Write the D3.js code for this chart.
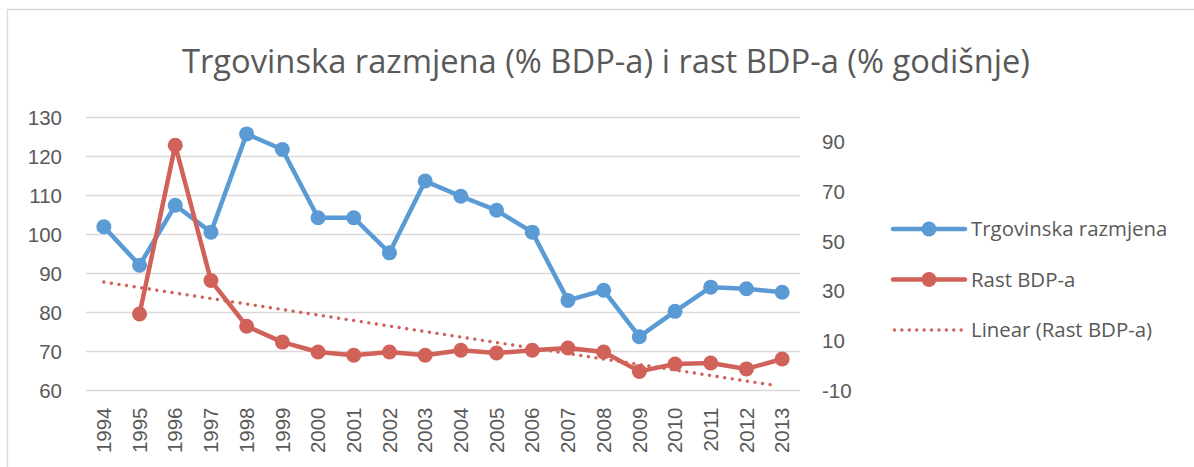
<!DOCTYPE html>
<html>
<head>
<meta charset="utf-8">
<script src="https://cdn.jsdelivr.net/npm/d3@7"></script>
<style>
    body { margin: 0; background: #fff; }
    svg { font-family: "Open Sans", sans-serif; }
    .tick-label { fill: #595959; font-size: 20.5px; }
</style>
</head>
<body>
<div id="chart"></div>
<script>
// values
const years = ['1994', '1995', '1996', '1997', '1998', '1999', '2000', '2001', '2002', '2003',
    '2004', '2005', '2006', '2007', '2008', '2009', '2010', '2011', '2012', '2013'];
const trade = [102, 92.1, 107.5, 100.6, 125.8, 121.8, 104.3, 104.3, 95.3, 113.7,
    109.8, 106.2, 100.6, 83.1, 85.7, 73.8, 80.3, 86.5, 86.1, 85.2];
const growth = [null, 20.8, 88.8, 34.3, 15.9, 9.5, 5.5, 4.2, 5.5, 4.2,
    6.2, 5.1, 6.2, 7.1, 5.5, -2.3, 0.7, 1.1, -1.3, 2.7];
// trendline end points (first and last year)
const trendYears = ['1994', '2013'];
const trendValues = [33.7, -8.1];

const leftTicks = [60, 70, 80, 90, 100, 110, 120, 130];
const rightTicks = [-10, 10, 30, 50, 70, 90];
const seriesNames = ['Trgovinska razmjena', 'Rast BDP-a', 'Linear (Rast BDP-a)'];

const blue = '#5b9bd5';
const red = '#d1625a';

const width = 1194, height = 467;
const plot = { left: 86, right: 800, top: 117.5, bottom: 390.5 };

const svg = d3.select('#chart').append('svg')
    .attr('width', width)
    .attr('height', height);

// chart border
svg.append('path')
    .attr('d', `M7.5,${height} V9.5 H${width}`)
    .attr('fill', 'none')
    .attr('stroke', '#d9d9d9')
    .attr('stroke-width', 1.3);

svg.append('text')
    .attr('x', 606)
    .attr('y', 73)
    .attr('text-anchor', 'middle')
    .attr('fill', '#595959')
    .style('font-size', '32.7px')
    .text('Trgovinska razmjena (% BDP-a) i rast BDP-a (% godišnje)');

let x = d3.scaleBand().domain(years).range([plot.left, plot.right]);
let yLeft = d3.scaleLinear().domain([60, 130]).range([plot.bottom, plot.top]);
let yRight = d3.scaleLinear().domain([-10, 100]).range([plot.bottom, plot.top]);
let cx = d => x(d) + x.bandwidth() / 2;

// gridlines
svg.append('g')
    .selectAll('line')
    .data(leftTicks).enter()
    .append('line')
    .attr('x1', plot.left)
    .attr('x2', plot.right)
    .attr('y1', d => yLeft(d))
    .attr('y2', d => yLeft(d))
    .attr('stroke', '#d9d9d9')
    .attr('stroke-width', 1.5);

// left axis
let leftAxis = svg.append('g')
    .attr('transform', `translate(${plot.left}, 0)`)
    .call(d3.axisLeft(yLeft).tickValues(leftTicks).tickSize(0).tickPadding(24));
leftAxis.select('.domain').remove();
leftAxis.selectAll('text').attr('class', 'tick-label').attr('fill', null);

// right axis (plain hyphen for negatives, as in the original)
let rightAxis = svg.append('g')
    .attr('transform', `translate(${plot.right}, 0)`)
    .call(d3.axisRight(yRight).tickValues(rightTicks).tickFormat(d => String(d)).tickSize(0).tickPadding(22));
rightAxis.select('.domain').remove();
rightAxis.selectAll('text').attr('class', 'tick-label').attr('fill', null);

// x axis, rotated labels
let xAxis = svg.append('g')
    .attr('transform', `translate(0, ${plot.bottom})`)
    .call(d3.axisBottom(x).tickSize(0));
xAxis.select('.domain').remove();
xAxis.selectAll('text')
    .attr('class', 'tick-label')
    .attr('fill', null)
    .attr('text-anchor', 'end')
    .attr('dy', '0.35em')
    .attr('transform', 'translate(0, 17) rotate(-90)')
    .attr('y', 0)
    .attr('x', 0);

// series
let drawSeries = (values, yScale, color) => {
    let pts = years.map((yr, i) => ({ year: yr, v: values[i] })).filter(d => d.v !== null);

    let line = d3.line()
        .x(d => cx(d.year))
        .y(d => yScale(d.v));

    svg.append('path')
        .datum(pts)
        .attr('d', line)
        .attr('fill', 'none')
        .attr('stroke', color)
        .attr('stroke-width', 4.5)
        .attr('stroke-linejoin', 'round');

    svg.append('g')
        .selectAll('circle')
        .data(pts).enter()
        .append('circle')
        .attr('cx', d => cx(d.year))
        .attr('cy', d => yScale(d.v))
        .attr('r', 7.5)
        .attr('fill', color);
};

drawSeries(trade, yLeft, blue);
drawSeries(growth, yRight, red);

// linear trend of growth
svg.append('path')
    .datum(trendYears.map((yr, i) => ({ year: yr, v: trendValues[i] })))
    .attr('d', d3.line().x(d => cx(d.year) - (d.year === '2013' ? 5 : 0)).y(d => yRight(d.v)))
    .attr('fill', 'none')
    .attr('stroke', red)
    .attr('stroke-width', 3.4)
    .attr('stroke-linecap', 'round')
    .attr('stroke-dasharray', '0.01 7.65');

// legend
let legend = svg.append('g')
    .selectAll('g')
    .data(seriesNames).enter()
    .append('g')
    .attr('transform', (d, i) => `translate(893, ${229 + i * 50.5})`);

legend.append('line')
    .attr('x1', (d, i) => i === 2 ? 1.5 : 0)
    .attr('x2', 72)
    .attr('stroke', (d, i) => i === 0 ? blue : red)
    .attr('stroke-width', (d, i) => i === 2 ? 3.4 : 4.5)
    .attr('stroke-linecap', 'round')
    .attr('stroke-dasharray', (d, i) => i === 2 ? '0.01 7.4' : null);

legend.filter((d, i) => i < 2)
    .append('circle')
    .attr('cx', 36)
    .attr('r', 7.5)
    .attr('fill', (d, i) => i === 0 ? blue : red);

legend.append('text')
    .attr('x', 78)
    .attr('dy', '0.35em')
    .attr('fill', '#595959')
    .style('font-size', '20.4px')
    .text(d => d);
</script>
</body>
</html>
